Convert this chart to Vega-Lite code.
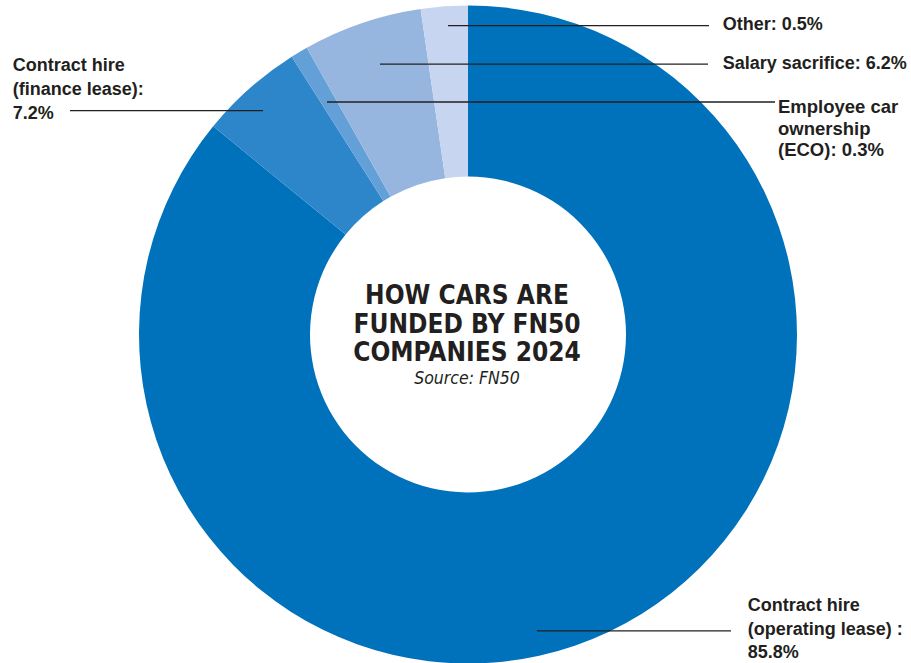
{
  "$schema": "https://vega.github.io/schema/vega-lite/v6.json",
  "width": 911,
  "height": 663,
  "padding": 0,
  "autosize": {"type": "fit", "contains": "padding"},
  "background": "white",
  "config": {"view": {"stroke": null}},
  "datasets": {
    "segments": [
      {"segment": "Contract hire (operating lease)", "share": 85.9, "rank": 1},
      {"segment": "Contract hire (finance lease)", "share": 5.1, "rank": 2},
      {"segment": "Employee car ownership (ECO)", "share": 0.85, "rank": 3},
      {"segment": "Salary sacrifice", "share": 5.85, "rank": 4},
      {"segment": "Other", "share": 2.3, "rank": 5}
    ],
    "leaders": [
      {"segment": "Other", "x": -0.20, "x2": 2.41, "y": 3.098},
      {"segment": "Salary sacrifice", "x": -0.88, "x2": 2.40, "y": 2.712},
      {"segment": "Employee car ownership (ECO)", "x": -1.41, "x2": 3.07, "y": 2.332},
      {"segment": "Contract hire (finance lease)", "x": -3.98, "x2": -2.05, "y": 2.245},
      {"segment": "Contract hire (operating lease)", "x": 0.69, "x2": 2.63, "y": -2.972}
    ],
    "singleLabels": [
      {"label": "Other: 0.5%", "x": 2.547, "y": 3.10},
      {"label": "Salary sacrifice: 6.2%", "x": 2.547, "y": 2.712}
    ],
    "multiLabels": [
      {"label": ["Contract hire", "(finance lease):", "7.2%"], "x": -4.553, "y": 2.638},
      {"label": ["Contract hire", "(operating lease) :", "85.8%"], "x": 2.797, "y": -2.775}
    ],
    "ecoLabel": [
      {"label": ["Employee car", "ownership", "(ECO): 0.3%"], "x": 3.10, "y": 2.222}
    ],
    "title": [
      {"label": ["HOW CARS ARE", "FUNDED BY FN50", "COMPANIES 2024"], "x": -0.01, "y": 0.305}
    ],
    "source": [
      {"label": "Source: FN50", "x": -0.01, "y": -0.495}
    ]
  },
  "layer": [
    {
      "data": {"name": "segments"},
      "mark": {"type": "arc", "outerRadius": 329, "innerRadius": 158, "stroke": null},
      "encoding": {
        "x": {"datum": 0, "type": "quantitative", "scale": {"domain": [-4.68, 4.43], "nice": false, "zero": false}, "axis": null},
        "y": {"datum": 0, "type": "quantitative", "scale": {"domain": [-3.275, 3.355], "nice": false, "zero": false}, "axis": null},
        "theta": {"field": "share", "type": "quantitative", "stack": true},
        "order": {"field": "rank", "type": "quantitative"},
        "color": {
          "field": "segment",
          "type": "nominal",
          "scale": {
            "domain": ["Contract hire (operating lease)", "Contract hire (finance lease)", "Employee car ownership (ECO)", "Salary sacrifice", "Other"],
            "range": ["#0072BC", "#2D86CA", "#64A0D8", "#96B6E0", "#C7D5F0"]
          },
          "legend": null
        }
      }
    },
    {
      "data": {"name": "leaders"},
      "mark": {"type": "rule", "color": "#231F20", "strokeWidth": 1.3},
      "encoding": {
        "x": {"field": "x", "type": "quantitative"},
        "x2": {"field": "x2"},
        "y": {"field": "y", "type": "quantitative"}
      }
    },
    {
      "data": {"name": "singleLabels"},
      "mark": {"type": "text", "align": "left", "baseline": "middle", "font": "Liberation Sans", "fontWeight": "bold", "fontSize": 18, "color": "#231F20"},
      "encoding": {
        "x": {"field": "x", "type": "quantitative"},
        "y": {"field": "y", "type": "quantitative"},
        "text": {"field": "label"}
      }
    },
    {
      "data": {"name": "multiLabels"},
      "mark": {"type": "text", "align": "left", "baseline": "alphabetic", "font": "Liberation Sans", "fontWeight": "bold", "fontSize": 18, "lineHeight": 23.6, "color": "#231F20"},
      "encoding": {
        "x": {"field": "x", "type": "quantitative"},
        "y": {"field": "y", "type": "quantitative"},
        "text": {"field": "label"}
      }
    },
    {
      "data": {"name": "ecoLabel"},
      "mark": {"type": "text", "align": "left", "baseline": "alphabetic", "font": "Liberation Sans", "fontWeight": "bold", "fontSize": 18.5, "lineHeight": 21.7, "color": "#231F20"},
      "encoding": {
        "x": {"field": "x", "type": "quantitative"},
        "y": {"field": "y", "type": "quantitative"},
        "text": {"field": "label"}
      }
    },
    {
      "data": {"name": "title"},
      "mark": {"type": "text", "align": "center", "baseline": "alphabetic", "font": "DejaVu Sans Condensed, sans-serif", "fontWeight": "bold", "fontSize": 26, "lineHeight": 28.5, "color": "#231F20"},
      "encoding": {
        "x": {"field": "x", "type": "quantitative"},
        "y": {"field": "y", "type": "quantitative"},
        "text": {"field": "label"}
      }
    },
    {
      "data": {"name": "source"},
      "mark": {"type": "text", "align": "center", "baseline": "alphabetic", "font": "DejaVu Sans Condensed, sans-serif", "fontStyle": "italic", "fontSize": 17.5, "color": "#231F20"},
      "encoding": {
        "x": {"field": "x", "type": "quantitative"},
        "y": {"field": "y", "type": "quantitative"},
        "text": {"field": "label"}
      }
    }
  ]
}
